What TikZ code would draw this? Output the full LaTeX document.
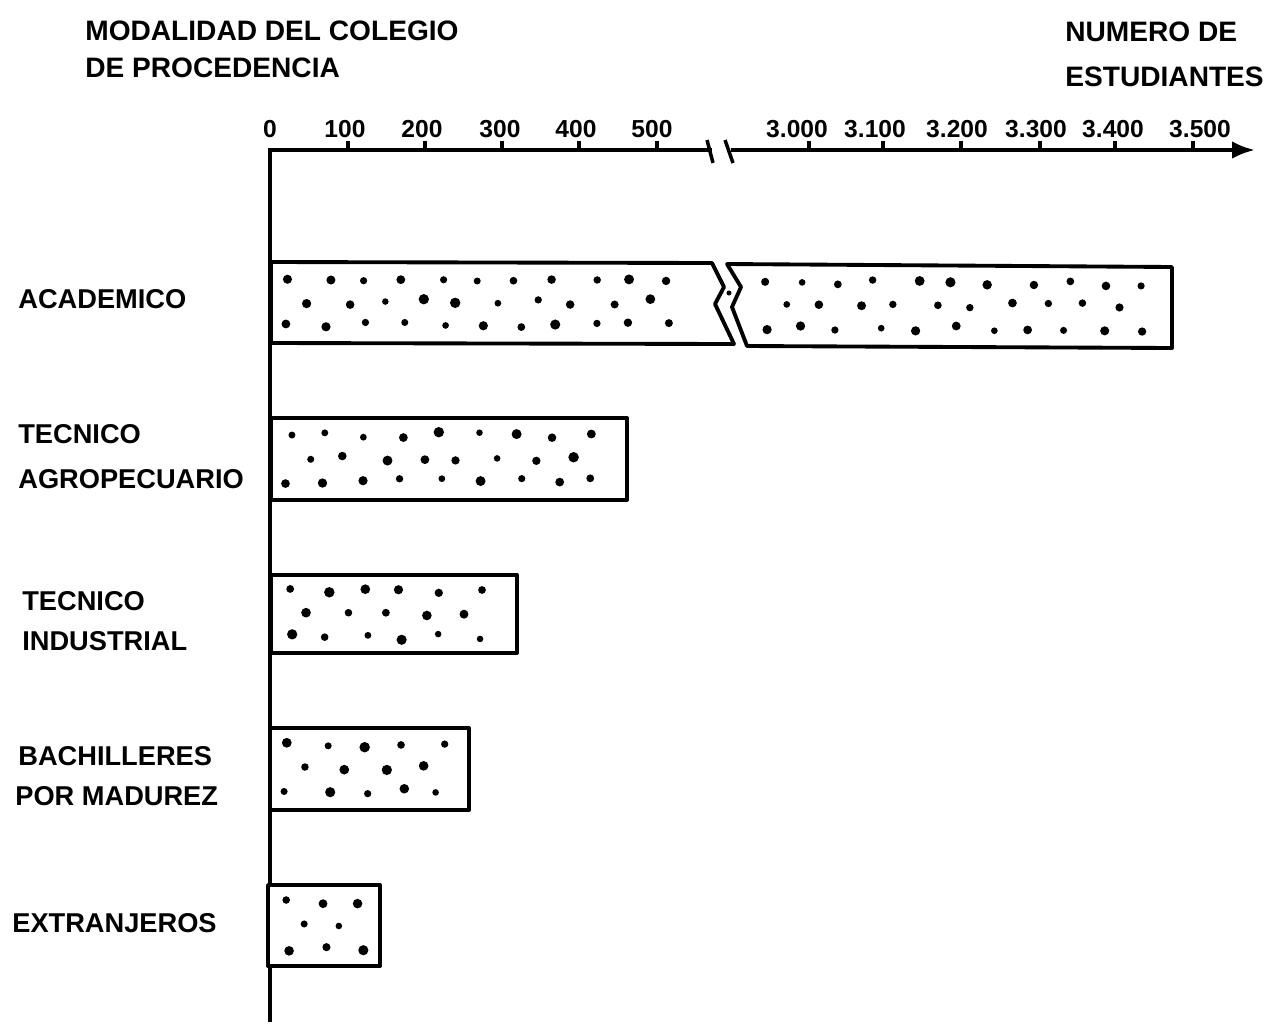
\documentclass[tikz,border=0pt]{standalone}
\usepackage{fontspec}
\setmainfont{Liberation Sans}
\usetikzlibrary{arrows.meta}

% three staggered rows of dots inside a bar: x start, count, top y
\newcommand{\speckle}[3]{
  \foreach \i in {0,...,#2} {
    \pgfmathsetmacro{\rr}{0.065+0.04*rnd}
    \fill ({#1+18+\i*38+5*rand},{#3+17+3*rand}) circle[radius=\rr cm];
    \pgfmathsetmacro{\rr}{0.065+0.04*rnd}
    \fill ({#1+18+\i*38+5*rand},{#3+63+3*rand}) circle[radius=\rr cm];
  }
  \pgfmathtruncatemacro{\lastb}{#2-1}
  \foreach \i in {0,...,\lastb} {
    \pgfmathsetmacro{\rr}{0.065+0.04*rnd}
    \fill ({#1+37+\i*38+5*rand},{#3+40+3*rand}) circle[radius=\rr cm];
  }
}

\begin{document}
\begin{tikzpicture}[x=0.02cm, y=-0.02cm,
    axis/.style={line width=2.3pt},
    bar/.style={draw, line width=2.2pt, fill=white, line join=round},
    cat/.style={font=\bfseries\fontsize{15.5}{18}\selectfont, anchor=base west, inner sep=0pt},
    head/.style={font=\bfseries\fontsize{16}{19}\selectfont, anchor=base west, inner sep=0pt},
    ticklab/.style={font=\bfseries\fontsize{14}{16}\selectfont, anchor=base, inner sep=0pt}
]
\pgfmathsetseed{11}
\useasboundingbox (0,0) rectangle (1283,1025);

% Headings
\node[head] (modo1) at (85,40) {MODALIDAD DEL COLEGIO};
\node[head] (modo2) at (85,77) {DE PROCEDENCIA};
\node[head] (num1) at (1065,41) {NUMERO DE};
\node[head] (num2) at (1065,86) {ESTUDIANTES};

% Axes
\draw[axis] (270,150) -- (712,150);
\draw[axis, -{Latex[length=13pt, width=10pt]}] (731,150) -- (1255,150);
\draw[axis] (270,148) -- (270,1022);
\draw[line width=2pt] (707,140) -- (713,163);
\draw[line width=2pt] (725,140) -- (733,163);

% Ticks and values
\foreach \x/\lx/\v in {348/345/100, 425/422/200, 502/500/300, 579/576/400, 657/652/500,
    809/797/3.000, 883/875/3.100, 961/957/3.200, 1040/1036/3.300, 1115/1113/3.400, 1193/1200/3.500} {
  \draw[line width=1.8pt] (\x,141) -- (\x,150);
  \node[ticklab] at (\lx,137) {\v};
}
\node[ticklab] (zero) at (270,137) {0};

% Bars
\draw[bar] (271,262) -- (712,263) -- (724,287) -- (715,304) -- (734,344) -- (271,343) -- cycle;
\draw[bar] (727,264) -- (1172,267) -- (1172,348) -- (747,346) -- (732,307) -- (741,287) -- cycle;
\fill (729,293) circle[radius=0.05cm];
\speckle{271}{10}{262}
\speckle{745}{10}{266}

\draw[bar] (271,418) rectangle (627,500);
\speckle{271}{8}{418}

\draw[bar] (271,575) rectangle (517,653);
\speckle{271}{5}{574}

\draw[bar] (270,728) rectangle (469,810);
\speckle{270}{4}{728}

\draw[bar] (268,885) rectangle (380,966);
\speckle{268}{2}{885}

% Categories
\node[cat] (acad) at (18,308) {ACADEMICO};
\node[cat] (agro1) at (18,443) {TECNICO};
\node[cat] (agro2) at (18,488) {AGROPECUARIO};
\node[cat] (ind1) at (22,610) {TECNICO};
\node[cat] (ind2) at (22,650) {INDUSTRIAL};
\node[cat] (bach1) at (18,765) {BACHILLERES};
\node[cat] (bach2) at (15,805) {POR MADUREZ};
\node[cat] (extr) at (12,932) {EXTRANJEROS};

\end{tikzpicture}
\end{document}
